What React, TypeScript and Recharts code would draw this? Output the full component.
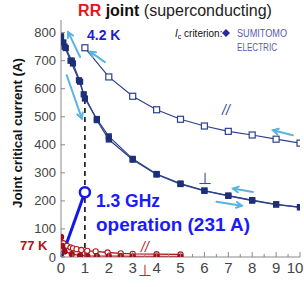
import React from 'react';
import { LineChart, Line, XAxis, YAxis, ReferenceLine, ReferenceDot } from 'recharts';

// 4.2 K, field parallel (open squares)
const par42X = [1, 2, 3, 4, 5, 6, 7, 8, 9, 10];
const par42Y = [746, 642, 573, 525, 491, 467, 448, 435, 420, 406];

// 4.2 K, field perpendicular, two sweeps (filled squares)
const perpUpX = [0, 0.1, 0.2, 0.45, 0.5, 0.8, 1, 1.5, 2, 3, 4, 5, 6, 7, 8, 9, 10];
const perpUpY = [787, 765, 745, 700, 690, 625, 565, 492, 430, 350, 296, 262, 237, 219, 203, 188, 178];
const perpDownX = [0, 0.15, 0.4, 0.75, 0.95, 1.5, 2, 3, 4, 5, 6, 7, 8, 9, 10];
const perpDownY = [780, 750, 700, 630, 580, 488, 419, 347, 294, 260, 236, 218, 201, 187, 177];

// 77 K
const par77X = [0, 0.1, 0.25, 0.4, 0.5, 0.65, 0.85, 1.1, 1.45, 1.95, 2.5, 3, 4, 5];
const par77Y = [70, 49, 40, 34, 31, 28, 25, 22, 20, 16, 13, 11, 10, 9];
const perp77X = [0, 0.05, 0.15, 0.45, 0.8, 1.1, 1.5, 2, 2.5, 3, 4, 5];
const perp77Y = [72, 40, 20, 10, 6, 4, 3, 3, 3, 2, 2, 1];

// 1.3 GHz operating point
const opX = 1;
const opY = 231;

const xTicks = [0, 0.5, 1, 1.5, 2, 2.5, 3, 3.5, 4, 4.5, 5, 5.5, 6, 6.5, 7, 7.5, 8, 8.5, 9, 9.5, 10];
const yTicks = [0, 100, 200, 300, 400, 500, 600, 700, 800];

// sweep-direction arrows [fromX, fromY, toX, toY]
const arrows = [
  [0.8, 713, 0.3, 802],
  [1.84, 695, 1.21, 732],
  [0.24, 648, 0.87, 494],
  [9.7, 434, 8.87, 452],
  [8.03, 232, 7.2, 244],
  [6.5, 197, 7.56, 183],
];

const pts = (xs: number[], ys: number[]) => xs.map((x, i) => ({ x, y: ys[i] }));

const FONT = '"Liberation Sans", Arial, sans-serif';
const NAVY = '#2d4189';
const RED = '#b8181d';
const AXIS = '#888';

const BottomTick = ({ x, y, payload }: any) => {
  const major = Number.isInteger(payload.value);
  // keep the last label inside the window
  const tx = Math.min(x, 295);
  return (
    <g>
      <line x1={x} x2={x} y1={y} y2={y - (major ? 5 : 3)} stroke={AXIS} />
      {major && (
        <text x={tx} y={y + 16} textAnchor="middle" fontSize={15} fill="#444" fontFamily={FONT}>
          {payload.value}
        </text>
      )}
    </g>
  );
};

const TopTick = ({ x, y, payload }: any) => {
  const major = Number.isInteger(payload.value);
  return <line x1={x} x2={x} y1={y} y2={y + (major ? 5 : 3)} stroke={AXIS} />;
};

const LeftTick = ({ x, y, payload }: any) => (
  <g>
    <line x1={x} x2={x + 4} y1={y} y2={y} stroke={AXIS} />
    <text x={x - 5} y={y + 4.5} textAnchor="end" fontSize={13} fill="#444" fontFamily={FONT}>
      {payload.value}
    </text>
  </g>
);

const RightTick = ({ x, y }: any) => <line x1={x} x2={x - 4} y1={y} y2={y} stroke={AXIS} />;

const square = (filled: boolean) => (props: any) => {
  const { cx, cy, index } = props;
  const s = filled ? 5 : 6;
  return (
    <rect
      key={index}
      x={cx - s / 2}
      y={cy - s / 2}
      width={s}
      height={s}
      fill={filled ? '#1c2f78' : '#fff'}
      stroke={filled ? '#1c2f78' : NAVY}
      strokeWidth={1.2}
    />
  );
};

const circle = (filled: boolean) => (props: any) => {
  const { cx, cy, index } = props;
  return (
    <circle
      key={index}
      cx={cx}
      cy={cy}
      r={2.6}
      fill={filled ? '#a01015' : '#fff'}
      stroke={filled ? '#a01015' : RED}
      strokeWidth={1.1}
    />
  );
};

const ArrowShape = (props: any) => {
  const { x1, y1, x2, y2 } = props;
  const a = Math.atan2(y2 - y1, x2 - x1);
  const h = 6;
  const p1 = [x2 - h * Math.cos(a - 0.5), y2 - h * Math.sin(a - 0.5)];
  const p2 = [x2 - h * Math.cos(a + 0.5), y2 - h * Math.sin(a + 0.5)];
  return (
    <g stroke="#5ab4e0" strokeWidth={2} fill="none" strokeLinecap="round">
      <line x1={x1} y1={y1} x2={x2} y2={y2} />
      <polyline points={`${p1[0]},${p1[1]} ${x2},${y2} ${p2[0]},${p2[1]}`} />
    </g>
  );
};

export default function App() {
  return (
    <div style={{ position: 'absolute', left: 0, top: 0, width: 304, height: 287, background: '#fff' }}>
      <LineChart width={304} height={287} margin={{ top: 20, right: 4, bottom: 0, left: 0 }}>
        <XAxis
          xAxisId="b"
          type="number"
          dataKey="x"
          domain={[0, 10]}
          ticks={xTicks}
          interval={0}
          tickSize={0}
          tickMargin={0}
          height={30}
          axisLine={{ stroke: AXIS }}
          tick={BottomTick}
          allowDataOverflow
        />
        <XAxis
          xAxisId="t"
          orientation="top"
          type="number"
          dataKey="x"
          domain={[0, 10]}
          ticks={xTicks}
          interval={0}
          tickSize={0}
          tickMargin={0}
          height={0}
          axisLine={{ stroke: AXIS }}
          tick={TopTick}
        />
        <YAxis
          yAxisId="l"
          type="number"
          domain={[0, 845]}
          ticks={yTicks}
          interval={0}
          width={61}
          tickSize={0}
          tickMargin={0}
          axisLine={{ stroke: AXIS }}
          tick={LeftTick}
          allowDataOverflow
        />
        <YAxis
          yAxisId="r"
          orientation="right"
          type="number"
          domain={[0, 845]}
          ticks={yTicks}
          interval={0}
          width={0}
          tickSize={0}
          tickMargin={0}
          axisLine={{ stroke: AXIS }}
          tick={RightTick}
        />

        <ReferenceLine
          xAxisId="b"
          yAxisId="l"
          segment={[{ x: opX, y: 0 }, { x: opX, y: 565 }]}
          stroke="#111"
          strokeWidth={1.6}
          strokeDasharray="5 4"
        />

        <Line xAxisId="b" yAxisId="l" data={pts(par77X, par77Y)} dataKey="y" stroke={RED} strokeWidth={1.3} dot={circle(false)} isAnimationActive={false} />
        <Line xAxisId="b" yAxisId="l" data={pts(perp77X, perp77Y)} dataKey="y" stroke={RED} strokeWidth={1.3} dot={circle(true)} isAnimationActive={false} />
        <Line xAxisId="b" yAxisId="l" data={pts(par42X, par42Y)} dataKey="y" stroke={NAVY} strokeWidth={1.2} dot={square(false)} isAnimationActive={false} />
        <Line xAxisId="b" yAxisId="l" data={pts(perpDownX, perpDownY)} dataKey="y" stroke={NAVY} strokeWidth={1.2} dot={square(true)} isAnimationActive={false} />
        <Line xAxisId="b" yAxisId="l" data={pts(perpUpX, perpUpY)} dataKey="y" stroke={NAVY} strokeWidth={1.2} dot={square(true)} isAnimationActive={false} />

        {arrows.map((a, i) => (
          <ReferenceLine
            key={i}
            xAxisId="b"
            yAxisId="l"
            segment={[{ x: a[0], y: a[1] }, { x: a[2], y: a[3] }]}
            shape={ArrowShape}
            ifOverflow="visible"
          />
        ))}

        <ReferenceLine
          xAxisId="b"
          yAxisId="l"
          segment={[{ x: 0.03, y: 0 }, { x: opX, y: opY }]}
          stroke="#1515ee"
          strokeWidth={3}
        />
        <ReferenceDot xAxisId="b" yAxisId="l" x={opX} y={opY} r={5} fill="#fff" stroke="#1515ee" strokeWidth={2.5} />
      </LineChart>

      <svg
        width={304}
        height={287}
        style={{ position: 'absolute', left: 0, top: 0, pointerEvents: 'none' }}
        fontFamily={FONT}
      >
        <text x={175} y={16} textAnchor="middle" fontSize={16}>
          <tspan fill="#e8141a" fontWeight="bold">RR</tspan>
          <tspan fill="#111" fontWeight="bold"> joint</tspan>
          <tspan fill="#222"> (superconducting)</tspan>
        </text>
        <text
          transform="translate(22,133) rotate(-90)"
          textAnchor="middle"
          fontSize={13}
          fontWeight="bold"
          fill="#111"
          textLength={150}
          lengthAdjust="spacingAndGlyphs"
        >
          Joint critical current (A)
        </text>

        <text x={87} y={40} fontSize={14} fontWeight="bold" fill="#1f1fd0">4.2 K</text>
        <text x={96} y={207} fontSize={18} fontWeight="bold" fill="#1a1aff" textLength={64} lengthAdjust="spacingAndGlyphs">
          1.3 GHz
        </text>
        <text x={96} y={231} fontSize={18} fontWeight="bold" fill="#1a1aff" textLength={154} lengthAdjust="spacingAndGlyphs">
          operation (231 A)
        </text>
        <text x={20} y={250} fontSize={13} fontWeight="bold" fill="#b01515">77 K</text>

        <text x={226} y={115} textAnchor="middle" fontSize={14} fontStyle="italic" fill="#3c4c9c">//</text>
        <text x={205} y={184} textAnchor="middle" fontSize={16} fill="#3c4c9c">⊥</text>
        <text x={145} y={252} textAnchor="middle" fontSize={14} fontStyle="italic" fill="#c0282d">//</text>
        <text x={145} y={276} textAnchor="middle" fontSize={16} fill="#c0282d">⊥</text>

        <text x={175} y={37} fontSize={10} fill="#111">
          <tspan fontStyle="italic">I</tspan>
          <tspan fontSize={7} dy={2}>c</tspan>
          <tspan dy={-2}> criterion:</tspan>
        </text>
        <polygon points="226,29 230,33 226,37 222,33" fill="#2a2a9a" />
        <text x={237} y={37} fontSize={10} fill="#5a5ab0" textLength={50} lengthAdjust="spacingAndGlyphs">SUMITOMO</text>
        <text x={237} y={51} fontSize={10} fill="#5a5ab0" textLength={40} lengthAdjust="spacingAndGlyphs">ELECTRIC</text>
      </svg>
    </div>
  );
}
